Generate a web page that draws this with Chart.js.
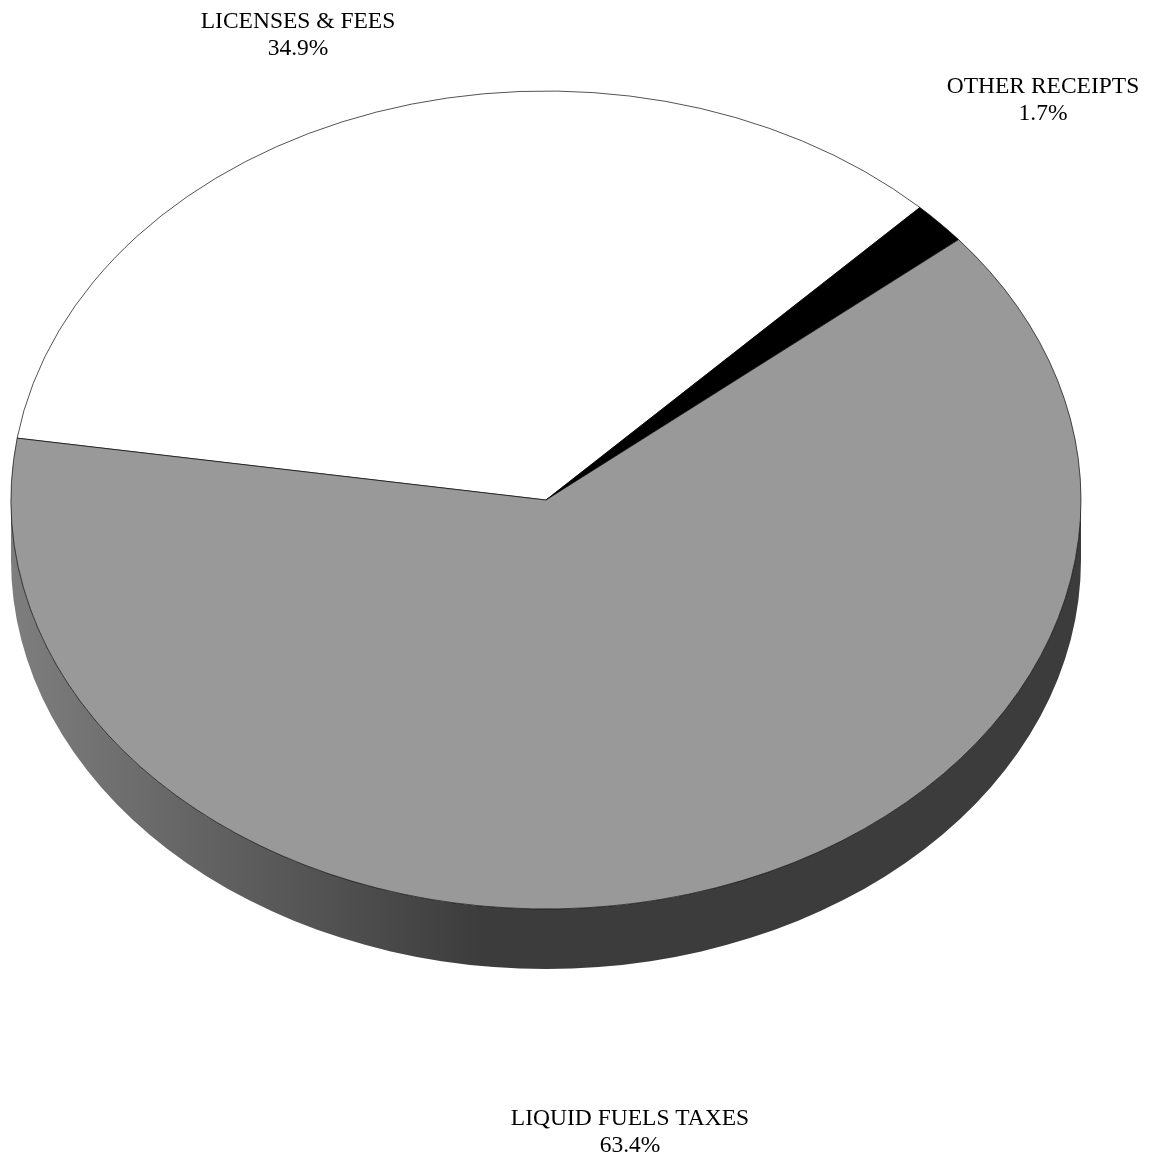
<!DOCTYPE html>
<html>
<head>
<meta charset="utf-8">
<script src="https://cdn.jsdelivr.net/npm/chart.js@4.4.0/dist/chart.umd.min.js"></script>
<style>
html,body{margin:0;padding:0;background:#fff;}
#wrap{width:1154px;height:1159px;}
</style>
</head>
<body>
<div id="wrap"><canvas id="c" width="1154" height="1159"></canvas></div>
<script>
const categories = ["LICENSES & FEES", "OTHER RECEIPTS", "LIQUID FUELS TAXES"];
const values = [34.9, 1.7, 63.4];
const colors = ["#ffffff", "#000000", "#999999"];

const CX = 546, CY = 500, RX = 535, RY = 409, DEPTH = 60;
const labelPos = [[298, 22], [1043, 87], [630, 1119]];

const tiltPlugin = {
  id: 'tilt',
  beforeDatasetsDraw(chart) {
    const ctx = chart.ctx;
    const arc = chart.getDatasetMeta(0).data[0];
    ctx.save();
    const g = ctx.createLinearGradient(CX - RX, 0, CX + RX, 0);
    g.addColorStop(0, '#7e7e7e');
    g.addColorStop(0.44, '#3c3c3c');
    g.addColorStop(1, '#3c3c3c');
    ctx.beginPath();
    ctx.ellipse(CX, CY, RX, RY, 0, 0, Math.PI, false);
    ctx.lineTo(CX - RX, CY + DEPTH);
    ctx.ellipse(CX, CY + DEPTH, RX, RY, 0, Math.PI, 0, true);
    ctx.closePath();
    ctx.fillStyle = g;
    ctx.fill();
    ctx.restore();
    ctx.save();
    ctx.translate(CX, CY);
    ctx.scale(RX / arc.outerRadius, RY / arc.outerRadius);
    ctx.translate(-arc.x, -arc.y);
  },
  afterDatasetsDraw(chart) {
    chart.ctx.restore();
  },
  afterDraw(chart) {
    const ctx = chart.ctx;
    const total = values.reduce((a, b) => a + b, 0);
    ctx.save();
    ctx.fillStyle = '#000';
    ctx.font = '23.5px "Liberation Serif", "Times New Roman", serif';
    ctx.textAlign = 'center';
    ctx.textBaseline = 'middle';
    categories.forEach((c, i) => {
      const [x, y] = labelPos[i];
      ctx.fillText(c, x, y);
      ctx.fillText((values[i] / total * 100).toFixed(1) + '%', x, y + 27);
    });
    ctx.restore();
  }
};

new Chart(document.getElementById('c'), {
  type: 'pie',
  data: {
    labels: categories,
    datasets: [{
      data: values,
      backgroundColor: colors,
      borderColor: '#000000',
      borderWidth: 0.8,
      borderJoinStyle: 'miter'
    }]
  },
  options: {
    responsive: false,
    animation: false,
    events: [],
    rotation: 278.7,
    layout: { padding: 20 },
    plugins: { legend: { display: false }, tooltip: { enabled: false } }
  },
  plugins: [tiltPlugin]
});
</script>
</body>
</html>
